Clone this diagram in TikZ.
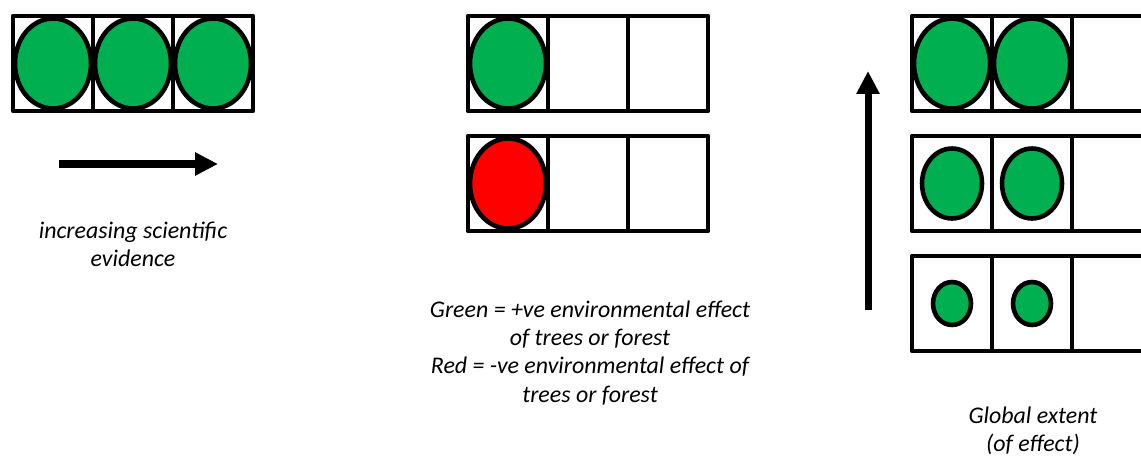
\documentclass[tikz,border=0pt]{standalone}
\usepackage{fontspec}
\setmainfont{Carlito}
\usetikzlibrary{positioning,arrows.meta}
\definecolor{effGreen}{HTML}{00B050}
\definecolor{effRed}{HTML}{FF0000}
\newcommand*{\cellW}{80}
\newcommand*{\cellH}{95}

\begin{document}
\begin{tikzpicture}[x=0.02cm,y=-0.02cm,
    cellbox/.style={draw=black,line width=2.6pt,line join=round},
    dot/.style={draw=black,line width=2.6pt},
    bigarrow/.style={line width=4pt,-{Triangle[length=0.46cm,width=0.44cm]}},
    caption/.style={font=\fontsize{13.6}{16}\selectfont\itshape,align=center}]
    \useasboundingbox (0,0) rectangle (1141,456);
    \clip (0,0) rectangle (1141,456);

    % evidence row
    \foreach \i in {0,1,2} {
        \draw [cellbox] (13+\i*\cellW,16) rectangle ++(\cellW,\cellH);
    }
    \foreach \i in {0,1,2} {
        \filldraw [dot, fill=effGreen] (53+\i*\cellW,63.5) ellipse [x radius=0.76cm, y radius=0.9cm];
    }
    \coordinate (evStart) at (59,164);
    \coordinate (evEnd) at (218,164);
    \draw [bigarrow] (evStart) -- (evEnd);
    \node [caption] (evText) at (133,244) {increasing scientific\\evidence};

    % sign rows
    \foreach \r in {0,1} {
        \foreach \i in {0,1,2} {
            \draw [cellbox] (468+\i*\cellW,16+\r*120) rectangle ++(\cellW,\cellH);
        }
    }
    \filldraw [dot, fill=effGreen] (508,63.5) ellipse [x radius=0.76cm, y radius=0.9cm];
    \filldraw [dot, fill=effRed] (508,183.5) ellipse [x radius=0.76cm, y radius=0.9cm];
    \node [caption] (signText) at (590,353)
        {Green = +ve environmental effect\\of trees or forest\\Red = -ve environmental effect of\\trees or forest};

    % extent rows
    \foreach \r in {0,1,2} {
        \foreach \i in {0,1,2} {
            \draw [cellbox] (912+\i*\cellW,16+\r*120) rectangle ++(\cellW,\cellH);
        }
    }
    \foreach \r/\rx/\ry in {0/0.76/0.9, 1/0.6/0.7, 2/0.38/0.43} {
        \foreach \i in {0,1} {
            \filldraw [dot, fill=effGreen] (952+\i*\cellW,63.5+\r*120) ellipse [x radius=\rx cm, y radius=\ry cm];
        }
    }
    \coordinate (extStart) at (868,310);
    \coordinate (extEnd) at (868,71);
    \draw [bigarrow] (extStart) -- (extEnd);
    \node [caption] (extText) at (1033,431) {Global extent\\(of effect)};
\end{tikzpicture}
\end{document}
